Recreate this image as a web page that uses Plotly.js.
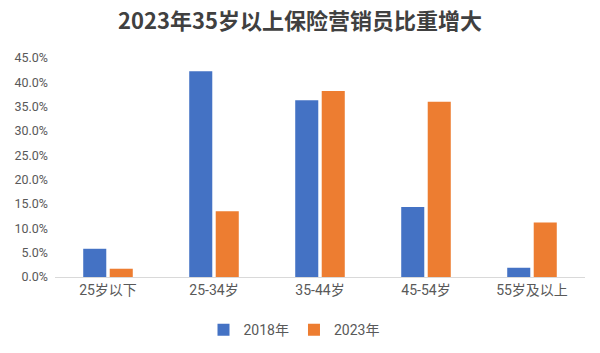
<!DOCTYPE html>
<html>
<head>
<meta charset="utf-8">
<script src="https://cdn.plot.ly/plotly-3.0.1.min.js"></script>
<style>html,body{margin:0;padding:0;background:#fff}#chart{width:600px;height:353px}</style>
</head>
<body>
<div id="chart"></div>
<script>
const categories = ["25岁以下", "25-34岁", "35-44岁", "45-54岁", "55岁及以上"];
const series2018 = [0.058, 0.423, 0.363, 0.144, 0.019];
const series2023 = [0.017, 0.135, 0.382, 0.360, 0.112];
const seriesNames = ["2018年", "2023年"];
const tickVals = [0, 0.05, 0.10, 0.15, 0.20, 0.25, 0.30, 0.35, 0.40, 0.45];

const FONT = "Roboto, 'Noto Sans CJK SC', sans-serif";
const data = [
  {type: "bar", name: seriesNames[0], x: categories, y: series2018, marker: {color: "#4472C4"}, hoverinfo: "x+y"},
  {type: "bar", name: seriesNames[1], x: categories, y: series2023, marker: {color: "#ED7D31"}, hoverinfo: "x+y"}
];
const layout = {
  width: 600, height: 353,
  margin: {l: 55, r: 15, t: 58, b: 76},
  paper_bgcolor: "#fff", plot_bgcolor: "#fff",
  font: {family: FONT, color: "#595959", size: 12},
  title: {text: "<b>2023年35岁以上保险营销员比重增大</b>", x: 0.5, xanchor: "center", y: 0.94, yanchor: "middle",
          font: {family: "'Noto Sans CJK SC', sans-serif", size: 22, color: "#404040"}},
  barmode: "group", bargap: 0.5, bargroupgap: 0.13,
  xaxis: {showgrid: false, showline: true, linecolor: "#d9d9d9", linewidth: 1, ticks: "",
          tickfont: {family: FONT, size: 14, color: "#595959"}, fixedrange: true, automargin: false},
  yaxis: {range: [0, 0.45], tickvals: tickVals, tickformat: ".1%", showgrid: false, zeroline: false,
          showline: false, ticks: "", ticklen: 0, ticklabelstandoff: 6,
          tickfont: {family: FONT, size: 12.5, color: "#595959"}, fixedrange: true, automargin: false},
  legend: {orientation: "h", x: 0.49, xanchor: "center", xref: "container", y: 0.065, yanchor: "middle", yref: "container",
           font: {family: FONT, size: 14, color: "#595959"}, itemwidth: 30, traceorder: "normal"},
  showlegend: true
};
Plotly.newPlot("chart", data, layout, {displayModeBar: false, staticPlot: true});
</script>
</body>
</html>
